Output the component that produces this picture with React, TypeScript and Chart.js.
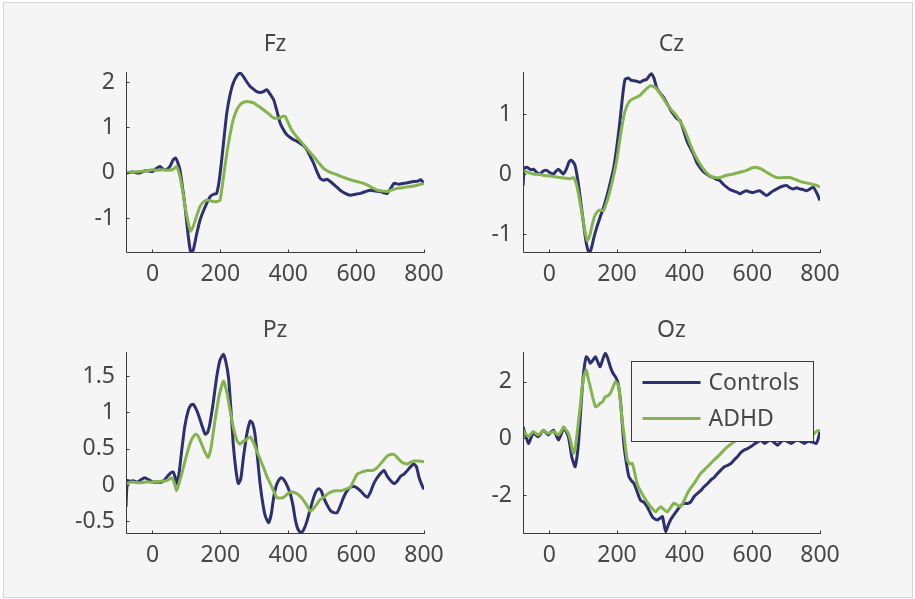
import React, { useEffect, useRef } from "react";
import { Chart, registerables } from "chart.js";

Chart.register(...registerables);

// ---- shared styling ----
const FONT_FAMILY = '"Noto Sans", "Liberation Sans", Arial, sans-serif';
const TEXT_COLOR = "#474747";
const AXIS_COLOR = "#3a3a3a";
const CONTROLS_COLOR = "#2c2f70";
const ADHD_COLOR = "#84b44e";
const FIGURE_BG = "#f5f5f6";

// ---- time axis (ms) ----
const timeMin = -78;
const timeMax = 800;
const timeTicks = [0, 200, 400, 600, 800];

// ---- Fz ----
const fzControlsMs = [-78, -60, -40, -20, 0, 12, 22, 32, 41, 52, 61, 68, 75, 81, 90, 96, 104, 112, 120, 130, 140, 155, 170, 180, 189, 196, 204, 212, 219, 228, 238, 250, 258, 268, 278, 288, 298, 307, 318, 327, 337, 345, 357, 366, 376, 386, 396, 406, 416, 425, 435, 445, 455, 465, 475, 485, 494, 504, 514, 524, 538, 553, 568, 583, 598, 613, 628, 642, 657, 672, 682, 691, 700, 712, 726, 741, 755, 770, 782, 790, 800];
const fzControlsUv = [0.0, 0.02, 0.0, 0.05, 0.03, 0.1, 0.14, 0.08, 0.07, 0.15, 0.29, 0.33, 0.22, 0.07, -0.4, -0.74, -1.3, -1.72, -1.7, -1.35, -1.04, -0.75, -0.52, -0.47, -0.45, -0.2, 0.29, 0.85, 1.32, 1.7, 1.98, 2.15, 2.2, 2.12, 2.0, 1.9, 1.84, 1.79, 1.77, 1.79, 1.83, 1.75, 1.61, 1.38, 1.1, 0.95, 0.84, 0.78, 0.73, 0.7, 0.65, 0.6, 0.51, 0.36, 0.21, 0.02, -0.12, -0.16, -0.14, -0.19, -0.28, -0.38, -0.45, -0.49, -0.47, -0.45, -0.41, -0.38, -0.4, -0.41, -0.44, -0.45, -0.36, -0.23, -0.25, -0.23, -0.21, -0.19, -0.18, -0.15, -0.23];
const fzAdhdMs = [-78, -55, -37, -15, 0, 15, 32, 45, 61, 71, 81, 90, 96, 104, 112, 120, 130, 140, 150, 160, 170, 179, 190, 199, 209, 219, 228, 238, 248, 258, 268, 278, 288, 298, 312, 327, 342, 357, 366, 376, 384, 391, 400, 408, 416, 430, 445, 460, 475, 490, 504, 524, 544, 563, 583, 603, 622, 642, 662, 677, 691, 706, 721, 741, 760, 780, 800];
const fzAdhdUv = [0.0, 0.02, 0.03, 0.05, 0.07, 0.06, 0.07, 0.06, 0.08, 0.14, -0.08, -0.45, -0.74, -1.05, -1.28, -1.18, -0.95, -0.74, -0.64, -0.6, -0.61, -0.63, -0.63, -0.6, -0.1, 0.43, 0.82, 1.17, 1.38, 1.5, 1.55, 1.57, 1.56, 1.54, 1.47, 1.39, 1.3, 1.21, 1.2, 1.21, 1.25, 1.24, 1.1, 0.97, 0.88, 0.75, 0.62, 0.49, 0.36, 0.22, 0.1, 0.01, -0.04, -0.1, -0.15, -0.19, -0.23, -0.3, -0.38, -0.4, -0.41, -0.37, -0.34, -0.32, -0.3, -0.27, -0.23];
const fzYTicks = [-1, 0, 1, 2];

// ---- Cz ----
const czControlsMs = [-78, -74, -65, -55, -47, -38, -28, -18, -8, 2, 12, 20, 27, 34, 41, 50, 58, 64, 70, 76, 84, 91, 98, 105, 110, 115, 120, 125, 132, 140, 150, 160, 170, 179, 190, 199, 207, 214, 219, 224, 233, 243, 255, 268, 278, 288, 296, 302, 309, 317, 327, 337, 347, 357, 366, 376, 386, 396, 406, 416, 426, 435, 445, 455, 465, 475, 485, 494, 504, 514, 524, 534, 544, 553, 563, 573, 583, 593, 603, 612, 622, 632, 642, 652, 662, 672, 682, 691, 701, 711, 721, 731, 741, 751, 761, 770, 780, 790, 800];
const czControlsUv = [-0.2, 0.1, 0.11, 0.07, 0.08, 0.03, 0.0, 0.05, 0.06, 0.02, 0.0, 0.05, 0.08, 0.04, 0.0, 0.08, 0.2, 0.23, 0.2, 0.14, -0.1, -0.39, -0.7, -1.0, -1.18, -1.28, -1.3, -1.22, -1.05, -0.89, -0.72, -0.56, -0.37, -0.17, 0.1, 0.44, 0.8, 1.17, 1.42, 1.58, 1.6, 1.56, 1.55, 1.53, 1.56, 1.58, 1.64, 1.67, 1.6, 1.44, 1.35, 1.28, 1.18, 1.08, 1.0, 0.93, 0.89, 0.74, 0.56, 0.44, 0.33, 0.2, 0.11, 0.04, 0.0, -0.04, -0.06, -0.09, -0.11, -0.17, -0.22, -0.26, -0.28, -0.3, -0.33, -0.3, -0.28, -0.3, -0.31, -0.29, -0.28, -0.32, -0.36, -0.32, -0.28, -0.25, -0.22, -0.2, -0.19, -0.23, -0.25, -0.23, -0.25, -0.26, -0.28, -0.25, -0.22, -0.31, -0.44];
const czAdhdMs = [-78, -60, -47, -28, -8, 12, 32, 50, 61, 71, 79, 86, 93, 100, 106, 112, 118, 125, 132, 140, 150, 160, 170, 179, 189, 199, 209, 219, 228, 238, 253, 268, 283, 298, 307, 317, 332, 347, 362, 376, 386, 396, 406, 416, 430, 445, 460, 475, 490, 504, 524, 544, 563, 583, 598, 613, 627, 642, 657, 672, 691, 711, 731, 751, 770, 790, 800];
const czAdhdUv = [0.06, 0.02, 0.0, -0.01, -0.03, -0.04, -0.06, -0.07, -0.08, -0.06, -0.15, -0.33, -0.55, -0.78, -0.98, -1.11, -1.05, -0.89, -0.73, -0.64, -0.6, -0.61, -0.46, -0.28, -0.05, 0.22, 0.6, 0.94, 1.12, 1.22, 1.27, 1.31, 1.4, 1.47, 1.46, 1.42, 1.3, 1.17, 1.06, 0.97, 0.88, 0.78, 0.65, 0.5, 0.32, 0.17, 0.05, -0.03, -0.06, -0.06, -0.02, 0.0, 0.03, 0.06, 0.1, 0.11, 0.08, 0.03, -0.02, -0.06, -0.06, -0.06, -0.1, -0.14, -0.16, -0.19, -0.22];
const czYTicks = [-1, 0, 1];

// ---- Pz ----
const pzControlsMs = [-78, -74, -65, -57, -45, -35, -23, -10, 2, 15, 27, 37, 46, 54, 61, 66, 71, 78, 86, 95, 105, 113, 120, 128, 135, 145, 155, 162, 169, 178, 189, 199, 209, 216, 224, 231, 238, 246, 253, 260, 268, 278, 288, 295, 302, 310, 317, 325, 332, 342, 350, 357, 364, 371, 379, 386, 396, 406, 414, 421, 428, 437, 445, 455, 465, 475, 483, 490, 497, 504, 514, 524, 534, 544, 554, 563, 573, 583, 593, 603, 613, 623, 633, 643, 652, 662, 672, 682, 692, 702, 712, 722, 731, 741, 751, 760, 770, 778, 785, 792, 800];
const pzControlsUv = [-0.3, 0.06, 0.05, 0.06, 0.04, 0.07, 0.1, 0.07, 0.04, 0.04, 0.04, 0.08, 0.13, 0.17, 0.18, 0.12, 0.02, 0.15, 0.47, 0.8, 1.02, 1.1, 1.11, 1.05, 0.97, 0.83, 0.7, 0.72, 0.84, 1.1, 1.48, 1.72, 1.8, 1.7, 1.48, 1.05, 0.56, 0.2, 0.02, 0.08, 0.38, 0.7, 0.88, 0.85, 0.7, 0.35, 0.02, -0.25, -0.42, -0.52, -0.4, -0.17, -0.02, 0.06, 0.1, 0.08, 0.0, -0.12, -0.28, -0.48, -0.6, -0.66, -0.62, -0.5, -0.33, -0.17, -0.08, -0.05, -0.08, -0.17, -0.27, -0.35, -0.38, -0.38, -0.28, -0.17, -0.08, -0.03, -0.02, -0.04, -0.08, -0.13, -0.17, -0.09, 0.02, 0.1, 0.16, 0.2, 0.12, 0.06, 0.02, 0.06, 0.12, 0.15, 0.2, 0.25, 0.29, 0.25, 0.11, 0.02, -0.06];
const pzAdhdMs = [-78, -60, -40, -20, 0, 20, 41, 50, 56, 63, 71, 80, 91, 100, 110, 118, 128, 136, 145, 155, 164, 172, 184, 196, 209, 218, 229, 236, 243, 250, 258, 266, 273, 280, 288, 298, 307, 317, 327, 337, 347, 357, 366, 376, 386, 396, 406, 416, 426, 436, 445, 455, 465, 475, 485, 494, 504, 514, 524, 539, 554, 568, 583, 593, 603, 618, 633, 648, 662, 677, 692, 702, 712, 721, 731, 741, 751, 760, 770, 785, 800];
const pzAdhdUv = [0.02, 0.04, 0.03, 0.04, 0.04, 0.05, 0.06, 0.08, 0.1, 0.05, -0.08, 0.05, 0.24, 0.4, 0.56, 0.65, 0.7, 0.66, 0.56, 0.45, 0.38, 0.5, 0.88, 1.22, 1.43, 1.3, 1.02, 0.84, 0.7, 0.6, 0.56, 0.6, 0.61, 0.64, 0.66, 0.58, 0.47, 0.36, 0.24, 0.12, 0.02, -0.08, -0.17, -0.18, -0.17, -0.13, -0.1, -0.1, -0.12, -0.16, -0.21, -0.28, -0.36, -0.32, -0.26, -0.2, -0.17, -0.13, -0.1, -0.08, -0.08, -0.06, -0.03, 0.06, 0.15, 0.18, 0.2, 0.2, 0.24, 0.32, 0.4, 0.42, 0.42, 0.38, 0.33, 0.3, 0.29, 0.31, 0.33, 0.33, 0.32];
const pzYTicks = [-0.5, 0, 0.5, 1, 1.5];

// ---- Oz ----
const ozControlsMs = [-78, -70, -62, -55, -48, -40, -33, -25, -18, -10, -3, 5, 12, 20, 27, 35, 42, 49, 56, 61, 66, 71, 76, 81, 86, 91, 96, 102, 109, 115, 121, 128, 136, 143, 150, 158, 165, 172, 180, 188, 195, 202, 210, 215, 220, 228, 235, 243, 250, 260, 269, 279, 289, 297, 304, 312, 319, 327, 334, 340, 344, 350, 358, 368, 378, 388, 398, 408, 418, 428, 438, 447, 457, 467, 477, 487, 497, 507, 517, 527, 537, 547, 556, 566, 576, 586, 596, 606, 616, 626, 636, 646, 655, 665, 675, 685, 695, 705, 715, 725, 735, 745, 754, 764, 774, 782, 789, 795, 800];
const ozControlsUv = [0.41, 0.1, -0.18, 0.0, 0.18, 0.12, 0.06, 0.18, 0.29, 0.2, 0.12, 0.22, 0.29, 0.12, -0.06, 0.15, 0.35, 0.25, 0.06, -0.25, -0.65, -0.85, -1.0, -0.7, -0.18, 0.7, 1.59, 2.4, 2.88, 2.8, 2.65, 2.75, 2.88, 2.7, 2.53, 2.8, 3.0, 2.85, 2.53, 2.3, 2.18, 2.0, 1.35, 0.6, -0.18, -0.9, -1.35, -1.5, -1.59, -1.9, -2.18, -2.25, -2.41, -2.6, -2.76, -2.85, -2.88, -2.82, -2.76, -3.1, -3.3, -3.1, -2.88, -2.7, -2.53, -2.38, -2.29, -2.3, -2.24, -2.05, -1.94, -1.85, -1.71, -1.6, -1.47, -1.38, -1.24, -1.12, -1.0, -0.95, -0.88, -0.75, -0.65, -0.5, -0.41, -0.36, -0.29, -0.2, -0.12, -0.08, -0.18, -0.1, -0.06, -0.15, -0.24, -0.12, -0.06, -0.12, -0.18, -0.1, -0.06, -0.12, -0.18, -0.1, -0.12, -0.15, -0.18, 0.0, 0.24];
const ozAdhdMs = [-78, -70, -62, -55, -48, -40, -33, -25, -18, -10, -3, 5, 12, 20, 27, 35, 42, 49, 56, 63, 71, 77, 83, 90, 96, 102, 109, 115, 121, 128, 136, 143, 150, 158, 165, 172, 180, 188, 195, 200, 205, 210, 215, 222, 230, 238, 245, 252, 259, 269, 279, 289, 299, 306, 314, 321, 329, 338, 348, 358, 368, 378, 388, 398, 408, 418, 428, 438, 447, 457, 467, 477, 487, 497, 507, 517, 527, 537, 546, 556, 566, 576, 586, 596, 606, 620, 640, 660, 680, 700, 720, 740, 760, 780, 790, 800];
const ozAdhdUv = [0.29, 0.15, 0.06, 0.15, 0.24, 0.18, 0.12, 0.2, 0.29, 0.22, 0.18, 0.2, 0.24, 0.18, 0.12, 0.25, 0.41, 0.3, 0.18, -0.1, -0.53, -0.3, 0.29, 1.0, 1.71, 2.2, 2.41, 2.1, 1.82, 1.45, 1.12, 1.15, 1.24, 1.3, 1.47, 1.5, 1.59, 1.8, 2.0, 1.95, 1.82, 1.3, 0.65, 0.0, -0.76, -0.9, -0.88, -1.2, -1.59, -1.85, -2.06, -2.25, -2.41, -2.5, -2.59, -2.5, -2.41, -2.5, -2.59, -2.45, -2.29, -2.35, -2.41, -2.2, -1.94, -1.75, -1.59, -1.4, -1.24, -1.12, -1.0, -0.88, -0.76, -0.65, -0.53, -0.4, -0.29, -0.2, -0.12, -0.05, 0.06, 0.05, 0.0, 0.03, 0.0, 0.05, 0.08, 0.05, 0.1, 0.08, 0.1, 0.12, 0.1, 0.15, 0.25, 0.29];
const ozYTicks = [-2, 0, 2];

const seriesLabels = ["Controls", "ADHD"];

type PanelSpec = {
  title: string;
  controlsMs: number[];
  controlsUv: number[];
  adhdMs: number[];
  adhdUv: number[];
  yMin: number;
  yMax: number;
  yTicks: number[];
  // plot-area rectangle on the page
  left: number;
  top: number;
  right: number;
  bottom: number;
  titleGap: number;
  legend: boolean;
};

const panels: PanelSpec[] = [
  { title: "Fz", controlsMs: fzControlsMs, controlsUv: fzControlsUv, adhdMs: fzAdhdMs, adhdUv: fzAdhdUv, yMin: -1.74, yMax: 2.22, yTicks: fzYTicks, left: 126, top: 72, right: 424, bottom: 252, titleGap: 28, legend: false },
  { title: "Cz", controlsMs: czControlsMs, controlsUv: czControlsUv, adhdMs: czAdhdMs, adhdUv: czAdhdUv, yMin: -1.3, yMax: 1.7, yTicks: czYTicks, left: 523, top: 72, right: 820, bottom: 252, titleGap: 28, legend: false },
  { title: "Pz", controlsMs: pzControlsMs, controlsUv: pzControlsUv, adhdMs: pzAdhdMs, adhdUv: pzAdhdUv, yMin: -0.66, yMax: 1.83, yTicks: pzYTicks, left: 126, top: 352, right: 424, bottom: 533, titleGap: 22, legend: false },
  { title: "Oz", controlsMs: ozControlsMs, controlsUv: ozControlsUv, adhdMs: ozAdhdMs, adhdUv: ozAdhdUv, yMin: -3.34, yMax: 3.05, yTicks: ozYTicks, left: 523, top: 352, right: 820, bottom: 533, titleGap: 22, legend: true },
];

// canvas margins around each plot area
const PAD_LEFT = 80;
const PAD_TOP = 55;
const PAD_RIGHT = 40;
const PAD_BOTTOM = 50;
const FONT_SIZE = 23;
const TICK_LEN = 3;
const LINE_WIDTH = 3;

function toPoints(ms: number[], uv: number[]) {
  return ms.map((t, i) => ({ x: t, y: uv[i] }));
}

// Draws the MATLAB-style axes (left + bottom lines, inward ticks), the title and the legend.
const panelDecor = {
  id: "panelDecor",
  afterDatasetsDraw(chart: any, _args: any, opts: any) {
    const { ctx, chartArea: ca, scales } = chart;
    const xs = scales.x;
    const ys = scales.y;
    ctx.save();
    ctx.strokeStyle = AXIS_COLOR;
    ctx.lineWidth = 1;
    ctx.beginPath();
    const l = Math.round(ca.left) + 0.5;
    const b = Math.round(ca.bottom) + 0.5;
    ctx.moveTo(l, Math.round(ca.top));
    ctx.lineTo(l, b);
    ctx.lineTo(Math.round(ca.right) + 1, b);
    for (const t of xs.ticks) {
      const px = Math.round(xs.getPixelForValue(t.value)) + 0.5;
      ctx.moveTo(px, b);
      ctx.lineTo(px, b - TICK_LEN);
    }
    for (const t of ys.ticks) {
      const py = Math.round(ys.getPixelForValue(t.value)) + 0.5;
      ctx.moveTo(l, py);
      ctx.lineTo(l + TICK_LEN, py);
    }
    ctx.stroke();

    // title
    ctx.fillStyle = TEXT_COLOR;
    ctx.font = `${FONT_SIZE}px ${FONT_FAMILY}`;
    ctx.textAlign = "center";
    ctx.textBaseline = "middle";
    ctx.fillText(opts.title, (ca.left + ca.right) / 2, ca.top - opts.titleGap);

    if (opts.legend) {
      const bx = ca.left + 108.5;
      const by = ca.top + 9.5;
      const bw = 182;
      const bh = 80;
      ctx.fillStyle = FIGURE_BG;
      ctx.fillRect(bx, by, bw, bh);
      ctx.strokeStyle = AXIS_COLOR;
      ctx.lineWidth = 1;
      ctx.strokeRect(bx, by, bw, bh);
      const rows = [21, 57];
      chart.data.datasets.forEach((ds: any, i: number) => {
        const ry = by + rows[i];
        ctx.strokeStyle = ds.borderColor;
        ctx.lineWidth = LINE_WIDTH;
        ctx.beginPath();
        ctx.moveTo(bx + 11, ry);
        ctx.lineTo(bx + 69, ry);
        ctx.stroke();
        ctx.fillStyle = TEXT_COLOR;
        ctx.textAlign = "left";
        ctx.textBaseline = "middle";
        ctx.fillText(ds.label, bx + 77, ry + 1);
      });
    }
    ctx.restore();
  },
};

function Panel({ spec }: { spec: PanelSpec }) {
  const ref = useRef<HTMLCanvasElement | null>(null);
  const width = spec.right - spec.left + PAD_LEFT + PAD_RIGHT;
  const height = spec.bottom - spec.top + PAD_TOP + PAD_BOTTOM;

  useEffect(() => {
    if (!ref.current) return;
    const tickFont = { family: FONT_FAMILY, size: FONT_SIZE };
    const chart = new Chart(ref.current, {
      type: "line",
      data: {
        datasets: [
          {
            label: seriesLabels[0],
            data: toPoints(spec.controlsMs, spec.controlsUv),
            borderColor: CONTROLS_COLOR,
            borderWidth: LINE_WIDTH,
            pointRadius: 0,
            tension: 0.18,
            fill: false,
            order: 2,
          },
          {
            label: seriesLabels[1],
            data: toPoints(spec.adhdMs, spec.adhdUv),
            borderColor: ADHD_COLOR,
            borderWidth: LINE_WIDTH,
            pointRadius: 0,
            tension: 0.18,
            fill: false,
            order: 1,
          },
        ],
      },
      options: {
        responsive: false,
        maintainAspectRatio: false,
        animation: false,
        devicePixelRatio: 1,
        layout: { padding: { left: 0, top: PAD_TOP, right: PAD_RIGHT, bottom: 0 } },
        plugins: {
          legend: { display: false },
          title: { display: false },
          tooltip: { enabled: false },
          panelDecor: { title: spec.title, titleGap: spec.titleGap, legend: spec.legend },
        } as any,
        events: [],
        scales: {
          x: {
            type: "linear",
            min: timeMin,
            max: timeMax,
            grid: { display: false, drawTicks: false },
            border: { display: false },
            afterBuildTicks: (scale: any) => {
              scale.ticks = timeTicks.map((v) => ({ value: v }));
            },
            afterFit: (scale: any) => {
              scale.height = PAD_BOTTOM;
            },
            ticks: {
              font: tickFont,
              color: TEXT_COLOR,
              padding: 9,
              maxRotation: 0,
              autoSkip: false,
              callback: (v: any) => String(v),
            },
          },
          y: {
            type: "linear",
            min: spec.yMin,
            max: spec.yMax,
            grid: { display: false, drawTicks: false },
            border: { display: false },
            afterBuildTicks: (scale: any) => {
              scale.ticks = spec.yTicks.map((v) => ({ value: v }));
            },
            afterFit: (scale: any) => {
              scale.width = PAD_LEFT;
            },
            ticks: {
              font: tickFont,
              color: TEXT_COLOR,
              padding: 11,
              autoSkip: false,
              callback: (v: any) => String(v),
            },
          },
        },
      } as any,
      plugins: [panelDecor as any],
    });
    return () => chart.destroy();
  }, [spec]);

  return (
    <canvas
      ref={ref}
      width={width}
      height={height}
      style={{
        position: "absolute",
        left: spec.left - PAD_LEFT,
        top: spec.top - PAD_TOP,
        width,
        height,
      }}
    />
  );
}

export default function App() {
  return (
    <div
      style={{
        position: "absolute",
        left: 0,
        top: 0,
        width: 915,
        height: 599,
        background: "#ffffff",
        overflow: "hidden",
      }}
    >
      <div
        style={{
          position: "absolute",
          left: 3,
          top: 2,
          width: 908,
          height: 594,
          border: "1px solid #d4d4d4",
          background: FIGURE_BG,
        }}
      />
      {panels.map((p) => (
        <Panel key={p.title} spec={p} />
      ))}
    </div>
  );
}
